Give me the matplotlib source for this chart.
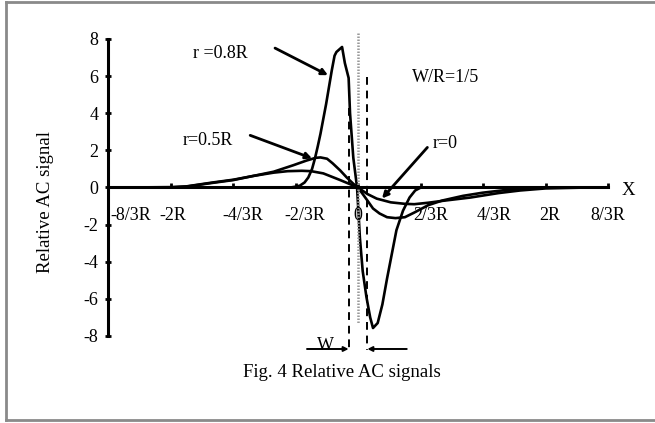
import numpy as np
import matplotlib
matplotlib.use("Agg")
import matplotlib.pyplot as plt
from matplotlib.lines import Line2D

plt.rcParams["font.family"] = ["Liberation Serif", "DejaVu Serif"]

# ── Data (x in units of R) ───────────────────────────────────────────────────
x_r08 = [-2.45, -1.0, -0.72, -0.66, -0.62, -0.57, -0.53, -0.49, -0.46, -0.43,
         -0.40, -0.37, -0.34, -0.31, -0.28, -0.25, -0.23, -0.17, -0.14, -0.10,
         -0.085, -0.05, -0.01, 0.02, 0.05, 0.09, 0.13, 0.16, 0.21, 0.26, 0.31,
         0.36, 0.41, 0.48, 0.55, 0.61, 0.67, 1.0, 2.45]
y_r08 = [0.0, 0.0, 0.0, 0.05, 0.1, 0.27, 0.54, 1.0, 1.55, 2.2,
         2.9, 3.7, 4.5, 5.4, 6.3, 7.1, 7.3, 7.57, 6.7, 5.9,
         4.0, 1.6, 0.0, -2.7, -4.5, -5.9, -7.0, -7.57, -7.3, -6.3, -4.9,
         -3.6, -2.3, -1.25, -0.54, -0.16, 0.0, 0.0, 0.0]

x_r05 = [-2.45, -2.0, -1.83, -1.55, -1.33, -1.12, -0.9, -0.69, -0.55, -0.45,
         -0.4, -0.33, -0.27, -0.19, -0.12, -0.05, 0.0, 0.1, 0.16, 0.23, 0.31,
         0.4, 0.5, 0.6, 0.75, 0.9, 1.12, 1.33, 1.55, 1.83, 2.0, 2.45]
y_r05 = [0.0, 0.0, 0.05, 0.25, 0.4, 0.62, 0.85, 1.2, 1.45, 1.6,
         1.62, 1.55, 1.3, 0.92, 0.54, 0.2, 0.0, -0.7, -1.13, -1.4, -1.6,
         -1.65, -1.6, -1.35, -0.95, -0.7, -0.45, -0.28, -0.15, -0.05, 0.0, 0.0]

x_r0 = [-2.45, -2.0, -1.83, -1.55, -1.33, -1.12, -0.9, -0.75, -0.6, -0.5,
        -0.37, -0.19, 0.0, 0.1, 0.2, 0.35, 0.5, 0.6, 0.75, 0.9, 1.2, 1.5,
        1.73, 2.0, 2.45]
y_r0 = [0.0, 0.02, 0.06, 0.27, 0.42, 0.62, 0.8, 0.88, 0.9, 0.88,
        0.76, 0.4, 0.0, -0.35, -0.6, -0.8, -0.88, -0.9, -0.82, -0.72, -0.54, -0.3,
        -0.16, -0.05, 0.0]

x_tick_pos = [-8/3, -2, -4/3, -2/3, 0, 2/3, 4/3, 2, 8/3]
x_labels = ["-8/3R", "-2R", "-4/3R", "-2/3R", "0", "2/3R", "4/3R", "2R", "8/3R"]
x_label_pos = [-2.42, -1.97, -1.23, -0.57, 0.0, 0.78, 1.45, 2.04, 2.66]
y_ticks = [-8, -6, -4, -2, 0, 2, 4, 6, 8]

half_width = 0.1   # W/R = 1/5
FS = 13

# ── Figure ───────────────────────────────────────────────────────────────────
fig = plt.figure(figsize=(6.55, 4.23), dpi=100)
ax = fig.add_axes([108 / 655, 87 / 423, 500 / 655, 297 / 423])
ax.set_xlim(-8/3, 8/3)
ax.set_ylim(-8, 8)

for sp in ("top", "right"):
    ax.spines[sp].set_visible(False)
ax.spines["bottom"].set_position(("data", 0))
ax.spines["bottom"].set_linewidth(2.2)
ax.spines["left"].set_linewidth(2.2)

ax.set_xticks(x_tick_pos)
ax.set_xticklabels([])
ax.tick_params(axis="x", direction="in", length=3, width=2)
ax.set_yticks(y_ticks)
ax.set_yticklabels([str(v) for v in y_ticks], fontsize=FS)
ax.tick_params(axis="y", direction="inout", length=4, width=2, pad=5)

for xs, ys in ((x_r0, y_r0), (x_r05, y_r05), (x_r08, y_r08)):
    ax.plot(xs, ys, color="black", lw=1.9, solid_joinstyle="round")

# centre line and strip edges
ax.plot([0, 0], [8.3, -7.3], color="#999999", lw=1.8, ls=(0, (0.6, 0.6)),
        clip_on=False)
ax.plot([half_width, half_width], [5.95, -8.75], color="black", lw=1.4,
        ls=(0, (4, 3)), clip_on=False)
ax.plot([-half_width, -half_width], [4.3, -8.75], color="black", lw=1.4,
        ls=(0, (4, 3)), clip_on=False)

for lbl, xp in zip(x_labels, x_label_pos):
    ax.text(xp, -1.5, lbl, ha="center", va="center", fontsize=FS)

ax.text(2.88, -0.15, "X", ha="center", va="center", fontsize=FS + 0.5)
ax.text(0.93, 5.9, "W/R=1/5", ha="center", va="center", fontsize=FS)

arrow = dict(arrowstyle="-|>", lw=2.0, color="black", mutation_scale=9,
             shrinkA=0, shrinkB=0)
ax.annotate("", xy=(-0.32, 6.05), xytext=(-0.885, 7.51), arrowprops=arrow)
ax.text(-1.47, 7.24, "r =0.8R", ha="center", va="center", fontsize=FS)
ax.annotate("", xy=(-0.49, 1.57), xytext=(-1.15, 2.81), arrowprops=arrow)
ax.text(-1.6, 2.54, "r=0.5R", ha="center", va="center", fontsize=FS)
ax.annotate("", xy=(0.256, -0.59), xytext=(0.74, 2.16), arrowprops=arrow)
ax.text(0.93, 2.38, "r=0", ha="center", va="center", fontsize=FS)

# W width marker
w_arrow = dict(arrowstyle="-|>", lw=1.4, color="black", mutation_scale=7,
               shrinkA=0, shrinkB=0)
ax.annotate("", xy=(-half_width, -8.7), xytext=(-0.544, -8.7),
            arrowprops=w_arrow, annotation_clip=False)
ax.annotate("", xy=(half_width, -8.7), xytext=(0.52, -8.7),
            arrowprops=w_arrow, annotation_clip=False)
ax.text(-0.35, -8.5, "W", ha="center", va="center", fontsize=FS)

fig.text(45 / 655, 1 - 202 / 423, "Relative AC signal", rotation=90,
         ha="center", va="center", fontsize=FS + 0.5)
fig.text(342 / 655, 1 - 372 / 423, "Fig. 4 Relative AC signals",
         ha="center", va="center", fontsize=FS + 0.5)

# outer frame (left, top, bottom)
frame_kw = dict(color="#8a8a8a", lw=2.0, transform=fig.transFigure)
fig.add_artist(Line2D([6 / 655, 6 / 655], [1 - 2 / 423, 1 - 420 / 423], **frame_kw))
fig.add_artist(Line2D([6 / 655, 1.0], [1 - 2 / 423, 1 - 2 / 423], **frame_kw))
fig.add_artist(Line2D([6 / 655, 1.0], [1 - 420 / 423, 1 - 420 / 423], **frame_kw))

fig.savefig("out.png", dpi=100)
